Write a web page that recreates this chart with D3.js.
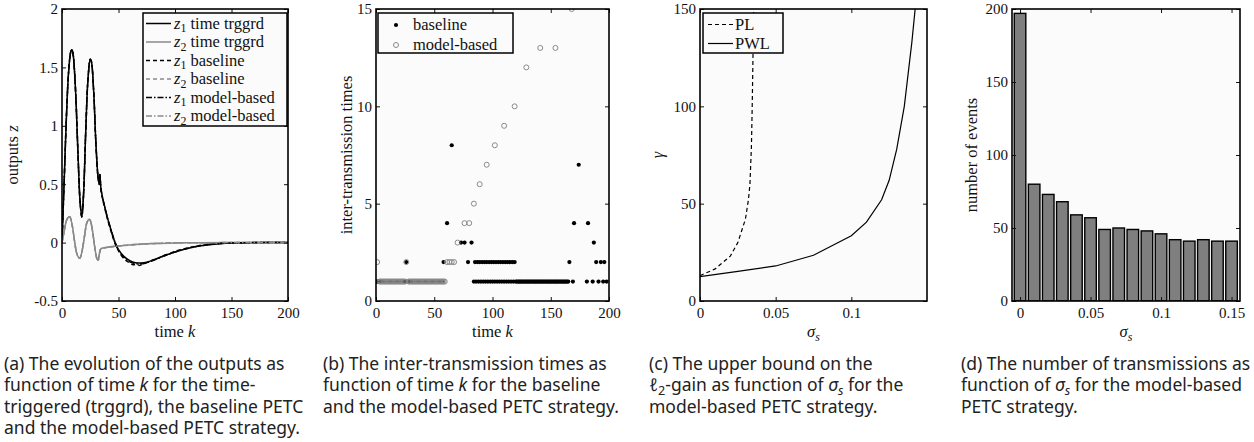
<!DOCTYPE html>
<html>
<head>
<meta charset="utf-8">
<script src="https://cdn.jsdelivr.net/npm/d3@7"></script>
<style>
body { margin: 0; background: #fff; }
svg { display: block; }
.serif { font-family: "Liberation Serif", "Times New Roman", serif; }
.sans { font-family: "Noto Sans", "Open Sans", sans-serif; }
</style>
</head>
<body>
<svg id="chart" width="1254" height="442"></svg>
<script>
////////////////////////////////////////////////////////////////////////////////
// Data

// (a) outputs over time, [k, z]
var z1Trggrd = [[0,0],[2,0.55],[4,1.1],[6,1.48],[8,1.64],[9,1.65],[10,1.6],[12,1.3],[14,0.8],[16,0.35],[17.5,0.22],[19,0.4],[21,0.95],[23,1.4],[25,1.57],[26,1.55],[28,1.3],[30,0.85],[32,0.55],[33,0.5],[33.5,0.58],[34.5,0.46],[36,0.38],[38,0.3],[40,0.22],[43,0.12],[47,0],[50,-0.06],[55,-0.12],[60,-0.155],[65,-0.172],[70,-0.175],[75,-0.168],[80,-0.152],[90,-0.115],[100,-0.08],[110,-0.052],[120,-0.032],[130,-0.018],[140,-0.009],[150,-0.004],[165,-0.001],[180,0],[200,0]]
var z2Trggrd = [[0,0],[2,0.1],[4,0.19],[6,0.22],[7,0.22],[9,0.15],[11,0.02],[13,-0.09],[15,-0.13],[16,-0.13],[18,-0.06],[20,0.06],[22,0.17],[24,0.2],[25,0.19],[27,0.1],[29,-0.04],[31,-0.14],[32,-0.15],[33,-0.1],[34,-0.06],[35,-0.05],[40,-0.04],[50,-0.028],[60,-0.02],[70,-0.013],[80,-0.008],[100,-0.003],[120,-0.001],[150,0],[200,0]]
var z1Baseline = [[0,0],[2,0.55],[4,1.1],[6,1.48],[8,1.64],[9,1.65],[10,1.6],[12,1.3],[14,0.8],[16,0.35],[17.5,0.22],[19,0.4],[21,0.95],[23,1.4],[25,1.57],[26,1.55],[28,1.3],[30,0.85],[32,0.55],[33,0.5],[33.5,0.6],[34.5,0.45],[36,0.37],[38,0.29],[40,0.21],[43,0.11],[47,-0.01],[50,-0.07],[55,-0.14],[60,-0.175],[63,-0.19],[66,-0.185],[69,-0.195],[72,-0.18],[75,-0.172],[80,-0.15],[85,-0.135],[90,-0.11],[95,-0.095],[100,-0.075],[110,-0.048],[120,-0.028],[130,-0.014],[140,-0.006],[150,-0.002],[170,0],[200,0]]
var z2Baseline = [[0,0],[2,0.1],[4,0.19],[6,0.22],[7,0.22],[9,0.15],[11,0.02],[13,-0.09],[15,-0.13],[16,-0.13],[18,-0.06],[20,0.06],[22,0.17],[24,0.2],[25,0.19],[27,0.1],[29,-0.04],[31,-0.14],[32,-0.15],[33,-0.1],[34,-0.06],[35,-0.05],[40,-0.042],[50,-0.03],[60,-0.021],[70,-0.014],[80,-0.009],[100,-0.003],[120,-0.001],[150,0],[200,0]]
var z1Model = [[0,0],[2,0.55],[4,1.1],[6,1.48],[8,1.64],[9,1.65],[10,1.6],[12,1.3],[14,0.8],[16,0.35],[17.5,0.22],[19,0.4],[21,0.95],[23,1.4],[25,1.57],[26,1.55],[28,1.3],[30,0.85],[32,0.55],[33,0.5],[33.5,0.58],[34.5,0.46],[36,0.38],[38,0.3],[40,0.22],[43,0.12],[47,0],[50,-0.065],[55,-0.13],[60,-0.165],[65,-0.18],[70,-0.182],[75,-0.172],[80,-0.155],[90,-0.115],[100,-0.08],[110,-0.052],[120,-0.031],[130,-0.017],[140,-0.008],[150,-0.003],[170,0],[200,0]]
var z2Model = [[0,0],[2,0.1],[4,0.19],[6,0.22],[7,0.22],[9,0.15],[11,0.02],[13,-0.09],[15,-0.13],[16,-0.13],[18,-0.06],[20,0.06],[22,0.17],[24,0.2],[25,0.19],[27,0.1],[29,-0.04],[31,-0.14],[32,-0.15],[33,-0.1],[34,-0.06],[35,-0.05],[40,-0.04],[50,-0.029],[60,-0.02],[70,-0.013],[80,-0.008],[100,-0.003],[120,-0.001],[150,0],[200,0]]

// (b) inter-transmission times, [k, tau]
var baselineEvents = [
  [0,1],[1,1],[2,1],[3,1],[4,1],[5,1],[6,1],[7,1],[8,1],[9,1],[10,1],[11,1],[12,1],[13,1],[14,1],[15,1],[16,1],[17,1],[18,1],[19,1],[20,1],[21,1],[22,1],[23,1],[24,1],[25,1],
  [26,2],
  [28,1],[29,1],[30,1],[31,1],[32,1],[33,1],[34,1],[35,1],[36,1],[37,1],[38,1],[39,1],[40,1],[41,1],[42,1],[43,1],[44,1],[45,1],[46,1],[47,1],[48,1],[49,1],[50,1],[51,1],[52,1],[53,1],[54,1],[55,1],[56,1],[57,1],
  [58,2],[61,4],[65,8],[73,3],[76,3],[79,2],[82,3],
  [84,1],[85,2],[86,1],[87,2],[88,1],[89,2],[90,1],[91,2],[92,1],[93,2],[94,1],[95,2],[96,1],[97,2],[98,1],[99,2],[100,1],[101,2],[102,1],[103,2],[104,1],[105,2],[106,1],[107,2],[108,1],[109,2],[110,1],[111,2],[112,1],[113,2],[114,1],[115,2],[116,1],[117,2],[118,1],[119,2],[120,1],
  [121,1],[122,1],[123,1],[124,1],[125,1],[126,1],[127,1],[128,1],[129,1],[130,1],[131,1],[132,1],[133,1],[134,1],[135,1],[136,1],[137,1],[138,1],[139,1],[140,1],[141,1],[142,1],[143,1],[144,1],[145,1],[146,1],[147,1],[148,1],[149,1],[150,1],[151,1],[152,1],[153,1],[154,1],[155,1],[156,1],[157,1],[158,1],[159,1],[160,1],[161,1],[162,1],[163,1],[164,1],[165,1],
  [166,2],[169,1],[170,4],[174,7],[181,1],[182,4],[186,1],[187,3],[189,2],[191,1],[193,2],[195,1],[196,2],[198,1]
]
var modelEvents = [
  [1,2],
  [3,1],[4,1],[5,1],[6,1],[7,1],[8,1],[9,1],[10,1],[11,1],[12,1],[13,1],[14,1],[15,1],[16,1],[17,1],[18,1],[19,1],[20,1],[21,1],[22,1],[23,1],[24,1],[25,1],
  [26,2],
  [28,1],[29,1],[30,1],[31,1],[32,1],[33,1],[34,1],[35,1],[36,1],[37,1],[38,1],[39,1],[40,1],[41,1],[42,1],[43,1],[44,1],[45,1],[46,1],[47,1],[48,1],[49,1],[50,1],[51,1],[52,1],[53,1],[54,1],[55,1],[56,1],[57,1],[58,1],[59,1],
  [61,2],[63,2],[65,2],[67,2],[70,3],[76,4],[80,4],[84,5],[89,6],[95,7],[102,8],[110,9],[119,10],[129,12],[141,13],[154,13],[168,15]
]

// (c) bound on the l2-gain
var sigmaPL = [0, 0.01, 0.02, 0.025, 0.03, 0.032, 0.033, 0.034, 0.0345, 0.035, 0.0355]
var gammaPL = [13, 16.5, 23, 30, 42, 52, 60, 80, 100, 125, 155]
var sigmaPWL = [0, 0.025, 0.05, 0.075, 0.1, 0.11, 0.12, 0.125, 0.13, 0.135, 0.14, 0.1428]
var gammaPWL = [12.5, 15.2, 18, 23.5, 33.5, 40.5, 52, 62, 78, 100, 133, 155]

// (d) number of events
var sigmaBars = [0, 0.01, 0.02, 0.03, 0.04, 0.05, 0.06, 0.07, 0.08, 0.09, 0.1, 0.11, 0.12, 0.13, 0.14, 0.15]
var eventCounts = [197, 80, 73, 68, 59, 57, 49, 50, 49, 48, 46, 42, 41, 42, 41, 41]

// ticks
var timeTicks = [0, 50, 100, 150, 200]
var outTicks = [-0.5, 0, 0.5, 1, 1.5, 2]
var tauTicks = [0, 5, 10, 15]
var gammaTicks = [0, 50, 100, 150]
var sigmaTicksC = [0, 0.05, 0.1]
var countTicks = [0, 50, 100, 150, 200]
var sigmaTicksD = [0, 0.05, 0.1, 0.15]

////////////////////////////////////////////////////////////////////////////////
// Helpers
var svg = d3.select("#chart")
var defs = svg.append("defs")
var TOP = 9, BOTTOM = 301
var grey = "#8a8a8a"

// parts: [text, flags]  flags: i = italic, s = subscript
function rich(sel, parts, size) {
  var down = false
  parts.forEach(function(p) {
    var f = p[1] || ""
    var t = sel.append("tspan").text(p[0])
    if (f.indexOf("i") >= 0) t.style("font-style", "italic")
    var sub = f.indexOf("s") >= 0
    if (sub) t.style("font-size", (size * 0.72) + "px")
    if (sub && !down) t.attr("dy", size * 0.22)
    if (!sub && down) t.attr("dy", -size * 0.22)
    down = sub
  })
  return sel
}

function panel(id, x0, x1, xDomain, yDomain, xTicks, yTicks) {
  var x = d3.scaleLinear().domain(xDomain).range([x0, x1])
  var y = d3.scaleLinear().domain(yDomain).range([BOTTOM, TOP])
  var g = svg.append("g")
  g.append("rect")
    .attr("x", x0).attr("y", TOP)
    .attr("width", x1 - x0).attr("height", BOTTOM - TOP)
    .attr("fill", "#fbfbfb")
  defs.append("clipPath").attr("id", "clip-" + id)
    .append("rect")
    .attr("x", x0).attr("y", TOP)
    .attr("width", x1 - x0).attr("height", BOTTOM - TOP)
  var plot = g.append("g").attr("clip-path", "url(#clip-" + id + ")")
  var none = function() { return "" }

  var axes = g.append("g")
  axes.append("g").attr("transform", "translate(0," + BOTTOM + ")")
    .call(d3.axisBottom(x).tickValues(xTicks).tickFormat(String).tickSize(-4).tickPadding(6))
  axes.append("g").attr("transform", "translate(0," + TOP + ")")
    .call(d3.axisTop(x).tickValues(xTicks).tickFormat(none).tickSize(-4))
  axes.append("g").attr("transform", "translate(" + x0 + ",0)")
    .call(d3.axisLeft(y).tickValues(yTicks).tickFormat(String).tickSize(-4).tickPadding(4))
  axes.append("g").attr("transform", "translate(" + x1 + ",0)")
    .call(d3.axisRight(y).tickValues(yTicks).tickFormat(none).tickSize(-4))
  axes.selectAll(".domain").remove()
  axes.selectAll(".tick line").attr("stroke", "#111")
  axes.selectAll(".tick text")
    .attr("class", "serif")
    .style("font-family", "'Liberation Serif', 'Times New Roman', serif")
    .style("font-size", "15px")
    .attr("fill", "#111")

  return {
    x: x, y: y, g: g, plot: plot,
    frame: function() {
      g.append("rect")
        .attr("x", x0).attr("y", TOP)
        .attr("width", x1 - x0).attr("height", BOTTOM - TOP)
        .attr("fill", "none").attr("stroke", "#000").attr("stroke-width", 1.6)
    },
    xLabel: function(parts) {
      rich(g.append("text")
        .attr("class", "serif")
        .attr("x", (x0 + x1) / 2).attr("y", 337)
        .attr("text-anchor", "middle")
        .style("font-size", "16.5px").attr("fill", "#111"), parts, 16.5)
    },
    yLabel: function(parts, bx) {
      rich(g.append("text")
        .attr("class", "serif")
        .attr("transform", "translate(" + bx + "," + ((TOP + BOTTOM) / 2) + ") rotate(-90)")
        .attr("text-anchor", "middle")
        .style("font-size", "16.5px").attr("fill", "#111"), parts, 16.5)
    }
  }
}

function legendBox(g, x0, y0, x1, y1) {
  g.append("rect")
    .attr("x", x0).attr("y", y0)
    .attr("width", x1 - x0).attr("height", y1 - y0)
    .attr("fill", "#fbfbfb").attr("stroke", "#000").attr("stroke-width", 1.5)
}

function legendText(g, x, y, parts) {
  rich(g.append("text")
    .attr("class", "serif")
    .attr("x", x).attr("y", y + 5)
    .style("font-size", "16.5px").attr("fill", "#111"), parts, 16.5)
}

function caption(x, lines) {
  var base = [370, 391.3, 412.6, 433.9]
  lines.forEach(function(parts, i) {
    rich(svg.append("text")
      .attr("class", "sans")
      .attr("x", x).attr("y", base[i])
      .style("font-size", "17.5px").attr("fill", "#222"), parts, 17.5)
  })
}

////////////////////////////////////////////////////////////////////////////////
// (a) outputs
var pa = panel("a", 62, 288, [0, 200], [-0.5, 2], timeTicks, outTicks)
var line = d3.line()
  .x(function(d) { return pa.x(d[0]) })
  .y(function(d) { return pa.y(d[1]) })
  .curve(d3.curveCatmullRom.alpha(0.5))

var seriesA = [
  { data: z1Trggrd, color: "#000", dash: null, label: [["z", "i"], ["1", "s"], [" time trggrd"]] },
  { data: z2Trggrd, color: grey, dash: null, label: [["z", "i"], ["2", "s"], [" time trggrd"]] },
  { data: z1Baseline, color: "#000", dash: "4,3", label: [["z", "i"], ["1", "s"], [" baseline"]] },
  { data: z2Baseline, color: grey, dash: "4,3", label: [["z", "i"], ["2", "s"], [" baseline"]] },
  { data: z1Model, color: "#000", dash: "6,2,1.5,2", label: [["z", "i"], ["1", "s"], [" model-based"]] },
  { data: z2Model, color: grey, dash: "6,2,1.5,2", label: [["z", "i"], ["2", "s"], [" model-based"]] }
]
seriesA.forEach(function(s) {
  pa.plot.append("path")
    .attr("d", line(s.data))
    .attr("fill", "none")
    .attr("stroke", s.color).attr("stroke-width", 1.5)
    .attr("stroke-dasharray", s.dash)
})
pa.frame()
legendBox(pa.g, 143, 13, 287, 126)
seriesA.forEach(function(s, i) {
  var yy = 23.5 + i * 18.5
  pa.g.append("line")
    .attr("x1", 146).attr("x2", 171).attr("y1", yy).attr("y2", yy)
    .attr("stroke", s.color).attr("stroke-width", 1.5)
    .attr("stroke-dasharray", s.dash)
  legendText(pa.g, 174, yy, s.label)
})
pa.xLabel([["time "], ["k", "i"]])
pa.yLabel([["outputs "], ["z", "i"]], 18)

////////////////////////////////////////////////////////////////////////////////
// (b) inter-transmission times
var pb = panel("b", 376, 609, [0, 200], [0, 15], timeTicks, tauTicks)
pb.plot.selectAll("circle.base")
  .data(baselineEvents)
  .join("circle")
  .attr("class", "base")
  .attr("cx", function(d) { return pb.x(d[0]) })
  .attr("cy", function(d) { return pb.y(d[1]) })
  .attr("r", 2.1)
  .attr("fill", "#000")
pb.plot.selectAll("circle.model")
  .data(modelEvents)
  .join("circle")
  .attr("class", "model")
  .attr("cx", function(d) { return pb.x(d[0]) })
  .attr("cy", function(d) { return pb.y(d[1]) })
  .attr("r", 2.5)
  .attr("fill", "none")
  .attr("stroke", grey).attr("stroke-width", 1)
pb.frame()
legendBox(pb.g, 378, 13, 513, 53)
pb.g.append("circle").attr("cx", 396).attr("cy", 25).attr("r", 2.1).attr("fill", "#000")
legendText(pb.g, 413, 25, [["baseline"]])
pb.g.append("circle").attr("cx", 396).attr("cy", 45).attr("r", 2.5)
  .attr("fill", "none").attr("stroke", grey).attr("stroke-width", 1)
legendText(pb.g, 413, 45, [["model-based"]])
pb.xLabel([["time "], ["k", "i"]])
pb.yLabel([["inter-transmission times"]], 352)

////////////////////////////////////////////////////////////////////////////////
// (c) l2-gain bound
var pc = panel("c", 700, 927, [0, 0.15], [0, 150], sigmaTicksC, gammaTicks)
var lineC = d3.line()
  .x(function(d) { return pc.x(d[0]) })
  .y(function(d) { return pc.y(d[1]) })
pc.plot.append("path")
  .attr("d", lineC(d3.zip(sigmaPL, gammaPL)))
  .attr("fill", "none").attr("stroke", "#000").attr("stroke-width", 1.2)
  .attr("stroke-dasharray", "4,3")
pc.plot.append("path")
  .attr("d", lineC(d3.zip(sigmaPWL, gammaPWL)))
  .attr("fill", "none").attr("stroke", "#000").attr("stroke-width", 1.2)
pc.frame()
legendBox(pc.g, 703, 13, 783, 53)
pc.g.append("line").attr("x1", 708).attr("x2", 733).attr("y1", 24.5).attr("y2", 24.5)
  .attr("stroke", "#000").attr("stroke-width", 1.2).attr("stroke-dasharray", "4,3")
legendText(pc.g, 735, 24.5, [["PL"]])
pc.g.append("line").attr("x1", 708).attr("x2", 733).attr("y1", 43.5).attr("y2", 43.5)
  .attr("stroke", "#000").attr("stroke-width", 1.2)
legendText(pc.g, 735, 43.5, [["PWL"]])
pc.xLabel([["σ", "i"], ["s", "is"]])
pc.yLabel([["γ", "i"]], 663)

////////////////////////////////////////////////////////////////////////////////
// (d) number of events
var pd = panel("d", 1012, 1240, [-0.0057, 0.156], [0, 200], sigmaTicksD, countTicks)
var barW = pd.x(0.0082) - pd.x(0)
pd.plot.selectAll("rect.bar")
  .data(d3.zip(sigmaBars, eventCounts))
  .join("rect")
  .attr("class", "bar")
  .attr("x", function(d) { return pd.x(d[0]) - barW / 2 })
  .attr("y", function(d) { return pd.y(d[1]) })
  .attr("width", barW)
  .attr("height", function(d) { return pd.y(0) - pd.y(d[1]) })
  .attr("fill", "#7f7f7f")
  .attr("stroke", "#000").attr("stroke-width", 1.4)
pd.frame()
pd.xLabel([["σ", "i"], ["s", "is"]])
pd.yLabel([["number of events"]], 977)

////////////////////////////////////////////////////////////////////////////////
// Captions
caption(4, [
  [["(a) The evolution of the outputs as"]],
  [["function of time "], ["k", "i"], [" for the time-"]],
  [["triggered (trggrd), the baseline PETC"]],
  [["and the model-based PETC strategy."]]
])
caption(323, [
  [["(b) The inter-transmission times as"]],
  [["function of time "], ["k", "i"], [" for the baseline"]],
  [["and the model-based PETC strategy."]]
])
caption(649, [
  [["(c) The upper bound on the"]],
  [["ℓ"], ["2", "s"], ["-gain as function of "], ["σ", "i"], ["s", "is"], [" for the"]],
  [["model-based PETC strategy."]]
])
caption(961, [
  [["(d) The number of transmissions as"]],
  [["function of "], ["σ", "i"], ["s", "is"], [" for the model-based"]],
  [["PETC strategy."]]
])
</script>
</body>
</html>
